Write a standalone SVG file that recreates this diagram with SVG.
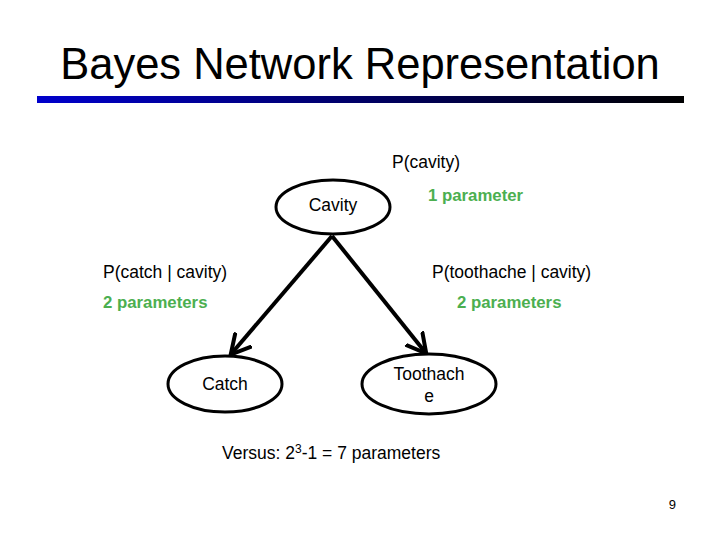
<svg xmlns="http://www.w3.org/2000/svg" width="720" height="540" viewBox="0 0 720 540">
<style>
text{font-family:"Liberation Sans",Arial,sans-serif;fill:#000}
.t{font-size:17.5px}
.g{font-size:16.8px;font-weight:bold;fill:#4CAF50}
ellipse{fill:#fff;stroke:#000;stroke-width:3}
.e{stroke:#000;stroke-width:4;fill:none}
</style>
<defs>
<linearGradient id="bar" x1="0" x2="1" y1="0" y2="0"><stop offset="0" stop-color="#0000cc"/><stop offset="1" stop-color="#000"/></linearGradient>
<marker id="ah" markerWidth="6" markerHeight="6" refX="4.5" refY="3" orient="auto" markerUnits="strokeWidth"><path d="M0,0.3 L5,3 L0,5.7" fill="none" stroke="#000" stroke-width="1"/></marker>
</defs>
<rect width="720" height="540" fill="#fff"/>
<text x="360" y="79" font-size="43.5" text-anchor="middle">Bayes Network Representation</text>
<rect x="37" y="96" width="647" height="7" fill="url(#bar)"/>
<g id="connectors">
<line class="e" x1="332" y1="236" x2="232" y2="353" marker-end="url(#ah)"/>
<line class="e" x1="332" y1="236" x2="425" y2="352" marker-end="url(#ah)"/>
</g>
<g id="cavity"><ellipse cx="333" cy="207" rx="57" ry="27"/><text class="t" x="333" y="211" text-anchor="middle">Cavity</text></g>
<g id="catch"><ellipse cx="225" cy="384" rx="57" ry="28"/><text class="t" x="225" y="390" text-anchor="middle">Catch</text></g>
<g id="toothache"><ellipse cx="429" cy="384" rx="67" ry="30"/><text class="t" x="429" y="380" text-anchor="middle">Toothach</text><text class="t" x="429" y="402" text-anchor="middle">e</text></g>
<text class="t" x="392" y="168">P(cavity)</text>
<text class="g" x="428" y="201">1 parameter</text>
<text class="t" x="103" y="278">P(catch | cavity)</text>
<text class="g" x="103" y="308">2 parameters</text>
<text class="t" x="432" y="278">P(toothache | cavity)</text>
<text class="g" x="457" y="308">2 parameters</text>
<text class="t" x="222" y="459">Versus: 2<tspan font-size="12" dy="-6">3</tspan><tspan dy="6">-1 = 7 parameters</tspan></text>
<text x="676" y="509" font-size="13" text-anchor="end">9</text>
</svg>
